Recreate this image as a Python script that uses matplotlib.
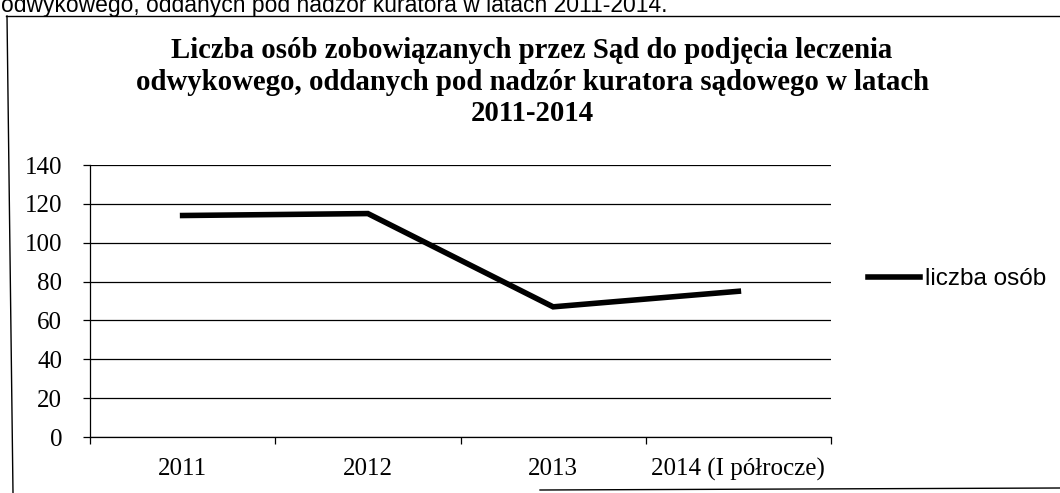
import matplotlib
matplotlib.use("Agg")
import matplotlib.pyplot as plt
from matplotlib.lines import Line2D

years = ["2011", "2012", "2013", "2014 (I półrocze)"]
persons = [114, 115, 67, 75]
series_name = "liczba osób"
title = ("Liczba osób zobowiązanych przez Sąd do podjęcia leczenia\n"
         "odwykowego, oddanych pod nadzór kuratora sądowego w latach\n"
         "2011-2014")
body_line = "odwykowego, oddanych pod nadzór kuratora w latach 2011-2014."

W, H = 1060, 493
fig = plt.figure(figsize=(W / 100, H / 100), dpi=100)
fig.patch.set_facecolor("white")

def fx(px):
    return px / W

def fy(py):
    return 1 - py / H

# fragment of the document text above the chart frame
fig.text(fx(1), fy(12), body_line, fontsize=16.5, va="baseline", ha="left",
         family="Liberation Sans", color="black")

# chart frame
frame_kw = dict(color="black", lw=1.0, transform=fig.transFigure)
fig.add_artist(Line2D([fx(6), 1.0], [fy(16), fy(16)], **frame_kw))
fig.add_artist(Line2D([fx(7), fx(13)], [fy(16), 0.0], **frame_kw))
fig.add_artist(Line2D([fx(540), 1.0], [fy(490), fy(488)], **frame_kw))

fig.text(fx(532), fy(82), title, ha="center", va="center", fontsize=20.7,
         fontweight="bold", family="Liberation Serif", linespacing=1.22)

ax = fig.add_axes([fx(90), fy(437), fx(831) - fx(90), fy(165) - fy(437)])
x = list(range(len(years)))
ax.plot(x, persons, color="black", lw=4.0, solid_joinstyle="miter",
        label=series_name, zorder=3)

ax.set_xlim(-0.5, len(years) - 0.5)
ax.set_ylim(0, 140)
ax.set_yticks(range(0, 141, 20))
ax.yaxis.grid(True, color="black", lw=0.9)
ax.set_axisbelow(True)

ax.set_xticks(x)
ax.set_xticklabels(years)
ax.set_xticks([i - 0.5 for i in range(len(years) + 1)], minor=True)
ax.tick_params(axis="x", which="major", length=0, pad=15)
ax.tick_params(axis="x", which="minor", length=5, width=0.9, direction="out")
ax.tick_params(axis="y", length=5, width=0.9, pad=15)
for lab in ax.get_xticklabels() + ax.get_yticklabels():
    lab.set_family("Liberation Serif")
    lab.set_fontsize(18)

for s in ("top", "right"):
    ax.spines[s].set_visible(False)
for s in ("left", "bottom"):
    ax.spines[s].set_linewidth(0.9)

ax_w = fx(831) - fx(90)
leg = ax.legend(loc="center left", bbox_to_anchor=(fx(868 - 90) / ax_w, 0.58),
                frameon=False, handlelength=2.15, handletextpad=0.2,
                borderpad=0, borderaxespad=0,
                prop={"family": "Liberation Sans", "size": 17.5})

fig.savefig("out.png", dpi=100)
